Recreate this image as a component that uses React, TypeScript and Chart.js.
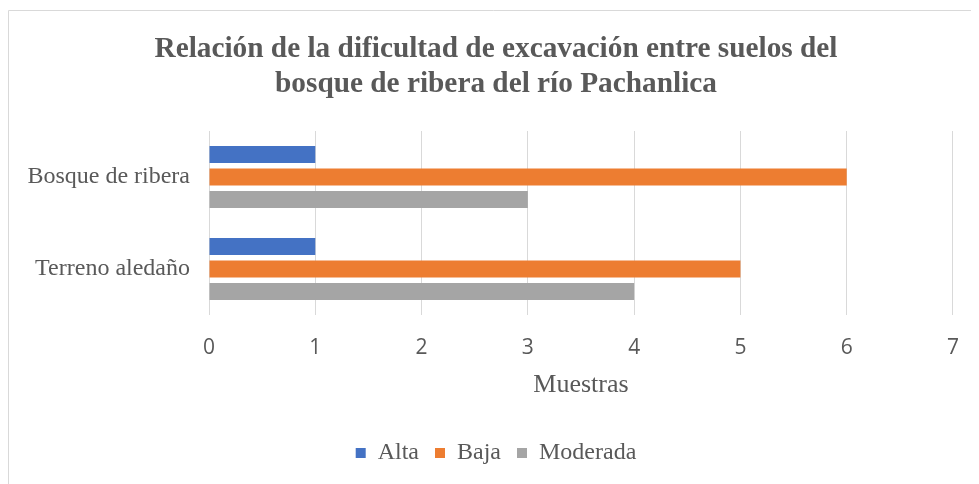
import React, { useEffect, useRef } from 'react';
import { Chart, registerables } from 'chart.js';

Chart.register(...registerables);

const categories = ['Bosque de ribera', 'Terreno aledaño'];
const seriesNames = ['Alta', 'Baja', 'Moderada'];
const alta = [1, 1];
const baja = [6, 5];
const moderada = [3, 4];
const seriesColors = ['#4472C4', '#ED7D31', '#A5A5A5'];
const titleLines = [
  'Relación de la dificultad de excavación entre suelos del',
  'bosque de ribera del río Pachanlica',
];
const xAxisTitle = 'Muestras';
const xMin = 0;
const xMax = 7;
const xStep = 1;

const SERIF = "'Liberation Serif', 'Times New Roman', serif";
const SANS = "'Open Sans', 'Liberation Sans', sans-serif";
const TEXT = '#595959';
const GRID = '#D9D9D9';

export default function App() {
  const ref = useRef<HTMLCanvasElement>(null);

  useEffect(() => {
    document.documentElement.style.overflow = 'hidden';
    const borderPlugin = {
      id: 'chartBorder',
      beforeDraw(chart: any) {
        const { ctx, width, height } = chart;
        ctx.save();
        ctx.strokeStyle = GRID;
        ctx.lineWidth = 1;
        ctx.beginPath();
        ctx.moveTo(0.5, height);
        ctx.lineTo(0.5, 2.5);
        ctx.lineTo(width, 2.5);
        ctx.stroke();
        ctx.restore();
      },
    };
    const values = [alta, baja, moderada];
    const chart = new Chart(ref.current as HTMLCanvasElement, {
      type: 'bar',
      data: {
        labels: categories,
        datasets: seriesNames.map((name, i) => ({
          label: name,
          data: values[i],
          backgroundColor: seriesColors[i],
          borderWidth: 0,
          categoryPercentage: 0.734,
          barPercentage: 0.756,
        })),
      },
      options: {
        indexAxis: 'y',
        responsive: false,
        animation: false,
        layout: { padding: { left: 5, right: 0, top: 0, bottom: 9 } },
        plugins: {
          title: {
            display: true,
            text: titleLines,
            color: TEXT,
            font: { family: SERIF, size: 29.3, weight: 'bold', lineHeight: '35px' },
            padding: { top: 24, bottom: 29 },
          },
          legend: {
            position: 'bottom',
            labels: {
              boxWidth: 10,
              boxHeight: 10,
              padding: 16,
              color: TEXT,
              font: { family: SERIF, size: 24 },
            },
          },
          tooltip: { enabled: false },
        },
        scales: {
          x: {
            min: xMin,
            max: xMax,
            ticks: {
              stepSize: xStep,
              padding: 20,
              color: TEXT,
              font: { family: SANS, size: 21 },
            },
            grid: { color: GRID, lineWidth: 1, drawTicks: false },
            border: { display: false },
            title: {
              display: true,
              text: xAxisTitle,
              color: TEXT,
              font: { family: SERIF, size: 26 },
              padding: { top: 0, bottom: 24 },
            },
            afterFit: (s: any) => {
              s.height = 110;
            },
          },
          y: {
            ticks: {
              padding: 19,
              color: TEXT,
              font: { family: SERIF, size: 24 },
            },
            grid: { display: false, drawTicks: false },
            border: { display: false },
            afterFit: (s: any) => {
              s.width = 196;
            },
          },
          yRightSpace: {
            type: 'category',
            position: 'right',
            ticks: { display: false },
            grid: { display: false, drawTicks: false },
            border: { display: false },
            afterFit: (s: any) => {
              s.width = 26;
            },
          },
        },
      } as any,
      plugins: [borderPlugin],
    });
    return () => chart.destroy();
  }, []);

  return <canvas ref={ref} width={971} height={476} style={{ display: 'block' }} />;
}
